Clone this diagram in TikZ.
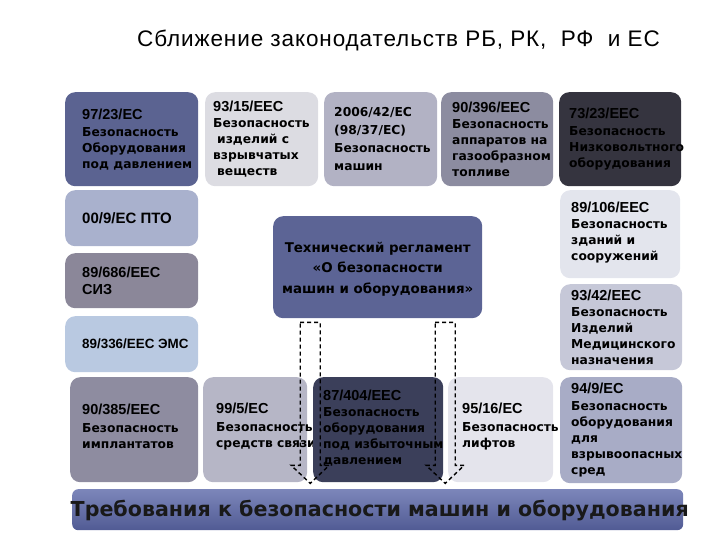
\documentclass[tikz,border=0pt]{standalone}
\usepackage{fontspec}
\setmainfont{DejaVu Sans}
\newfontfamily\hdf{Liberation Sans}
\newfontfamily\ttlf{Liberation Sans}[LetterSpace=4]
\usetikzlibrary{calc}
\definecolor{cA}{HTML}{5B6391}
\definecolor{cB}{HTML}{DCDCE2}
\definecolor{cC}{HTML}{B2B2C4}
\definecolor{cD}{HTML}{8C8CA0}
\definecolor{cE}{HTML}{35343F}
\definecolor{cL1}{HTML}{A9B1CD}
\definecolor{cL2}{HTML}{8B8799}
\definecolor{cL3}{HTML}{B9C9E1}
\definecolor{cTR}{HTML}{5C6495}
\definecolor{cR1}{HTML}{E3E5ED}
\definecolor{cR2}{HTML}{C6C8D8}
\definecolor{cR3}{HTML}{A8ACC6}
\definecolor{cD1}{HTML}{8E8CA0}
\definecolor{cD2}{HTML}{B6B6C6}
\definecolor{cD3}{HTML}{3B3F5A}
\definecolor{cD4}{HTML}{E4E4EC}
\definecolor{barT}{HTML}{7C86BA}
\definecolor{barB}{HTML}{515B94}
\newcommand\hdr[1]{{\hdf\bfseries\fontsize{14.5}{16}\selectfont #1}}
\tikzset{
  box/.style={draw=none, rounded corners=10pt, anchor=north west, inner sep=0pt},
  txt/.style={anchor=west, align=left, inner sep=0pt, text=black,
    font=\bfseries\fontsize{12.3}{16}\selectfont},
  ltxt/.style={anchor=west, align=left, inner sep=0pt, text=black,
    font=\hdf\bfseries\fontsize{14.5}{17}\selectfont},
  darrow/.style={draw=black, dash pattern=on 4pt off 3pt, line width=1.4pt},
}
\begin{document}
\begin{tikzpicture}[x=1pt,y=-1pt]
\useasboundingbox (0,0) rectangle (720,540);
\node[anchor=base, inner sep=0pt, font=\ttlf\fontsize{22.5}{26}\selectfont] (title) at (398.5,47) {Сближение законодательств РБ, РК,\ \ РФ\ \ и ЕС};

% top row
\node[box, fill=cA, minimum width=133pt, minimum height=94pt] (b1) at (65,92) {};
\node[txt] (t1) at ($(b1.west)+(17,0)$) {\hdr{97/23/EC}\\[1pt]Безопасность\\Оборудования\\под давлением};
\node[box, fill=cB, minimum width=113pt, minimum height=94pt] (b2) at (205,92) {};
\node[txt] (t2) at ($(b2.west)+(8,0)$) {\hdr{93/15/EEC}\\Безопасность\\\hspace{4pt}изделий с\\взрывчатых\\\hspace{4pt}веществ};
\node[box, fill=cC, minimum width=113pt, minimum height=94pt] (b3) at (324,92) {};
\node[txt] (t3) at ($(b3.west)+(10,0)$) {2006/42/EC\\[2pt](98/37/EC)\\[2pt]Безопасность\\[2pt]машин};
\node[box, fill=cD, minimum width=112pt, minimum height=94pt] (b4) at (441,92) {};
\node[txt] (t4) at ($(b4.west)+(11,0)$) {\hdr{90/396/EEC}\\Безопасность\\аппаратов на\\газообразном\\топливе};
\node[box, fill=cE, minimum width=122pt, minimum height=94pt] (b5) at (559,92) {};
\node[txt] (t5) at ($(b5.west)+(10,0)$) {\hdr{73/23/EEC}\\[1pt]Безопасность\\Низковольтного\\оборудования};

% left column
\node[box, fill=cL1, minimum width=133pt, minimum height=56pt] (l1) at (65,190) {};
\node[ltxt, font=\hdf\bfseries\fontsize{15}{17}\selectfont] (lt1) at ($(l1.west)+(17,0)$) {00/9/EC ПТО};
\node[box, fill=cL2, minimum width=133pt, minimum height=55pt] (l2) at (65,253) {};
\node[ltxt] (lt2) at ($(l2.west)+(17,0)$) {89/686/EEC\\СИЗ};
\node[box, fill=cL3, minimum width=133pt, minimum height=56pt] (l3) at (65,316) {};
\node[ltxt, font=\hdf\bfseries\fontsize{13.4}{15}\selectfont] (lt3) at ($(l3.west)+(17,0)$) {89/336/EEC ЭМС};

% centre
\node[box, fill=cTR, minimum width=209pt, minimum height=102pt] (tr) at (273,216) {};
\node[anchor=center, align=center, inner sep=0pt, font=\bfseries\fontsize{13.4}{20.5}\selectfont] (ttr) at ($(tr.center)+(0,2)$) {Технический регламент\\«О безопасности\\машин и оборудования»};

% right column
\node[box, fill=cR1, minimum width=120pt, minimum height=88pt] (r1) at (560,190) {};
\node[txt] (rt1) at ($(r1.west)+(11,-2)$) {\hdr{89/106/EEC}\\Безопасность\\зданий и\\сооружений};
\node[box, fill=cR2, minimum width=122pt, minimum height=86pt] (r2) at (560,284) {};
\node[txt] (rt2) at ($(r2.west)+(11,0)$) {\hdr{93/42/EEC}\\Безопасность\\Изделий\\Медицинского\\назначения};
\node[box, fill=cR3, minimum width=122pt, minimum height=106pt] (r3) at (560,377) {};
\node[txt] (rt3) at ($(r3.west)+(11,0)$) {\hdr{94/9/EC}\\[1pt]Безопасность\\оборудования\\для\\взрывоопасных\\сред};

% bottom row
\node[box, fill=cD1, minimum width=128pt, minimum height=105pt] (d1) at (70,377) {};
\node[txt] (dt1) at ($(d1.west)+(12,-3)$) {\hdr{90/385/EEC}\\[2pt]Безопасность\\имплантатов};
\node[box, fill=cD2, minimum width=104pt, minimum height=105pt] (d2) at (203,377) {};
\node[txt] (dt2) at ($(d2.west)+(13,-3)$) {\hdr{99/5/EC}\\[2pt]Безопасность\\средств связи};
\node[box, fill=cD3, minimum width=130pt, minimum height=105pt] (d3) at (313,377) {};
\node[txt] (dt3) at ($(d3.west)+(10,-2)$) {\hdr{87/404/EEC}\\Безопасность\\оборудования\\под избыточным\\давлением};
\node[box, fill=cD4, minimum width=105pt, minimum height=105pt] (d4) at (448,377) {};
\node[txt] (dt4) at ($(d4.west)+(14,-3)$) {\hdr{95/16/EC}\\[2pt]Безопасность\\лифтов};

% bottom bar
\node[box, rounded corners=6pt, top color=barT, bottom color=barB, minimum width=611pt, minimum height=41pt] (bar) at (72,489) {};
\node[anchor=center, inner sep=0pt, text=black!90, font=\bfseries\fontsize{20.6}{24}\selectfont] (bart) at ($(bar.center)+(2,1)$) {Требования к безопасности машин и оборудования};

% dashed block arrows
\coordinate (la) at ($(tr.south)+(-67.5,4)$);
\coordinate (ra) at ($(tr.south)+(67.5,4)$);
\draw[darrow] ($(la)+(-10,0)$) -- ++(20,0) -- ++(0,143) -- ++(9,0) -- ++(-19,18) -- ++(-19,-18) -- ++(9,0) -- cycle;
\draw[darrow] ($(ra)+(-10,0)$) -- ++(20,0) -- ++(0,143) -- ++(9,0) -- ++(-19,18) -- ++(-19,-18) -- ++(9,0) -- cycle;
\end{tikzpicture}
\end{document}
